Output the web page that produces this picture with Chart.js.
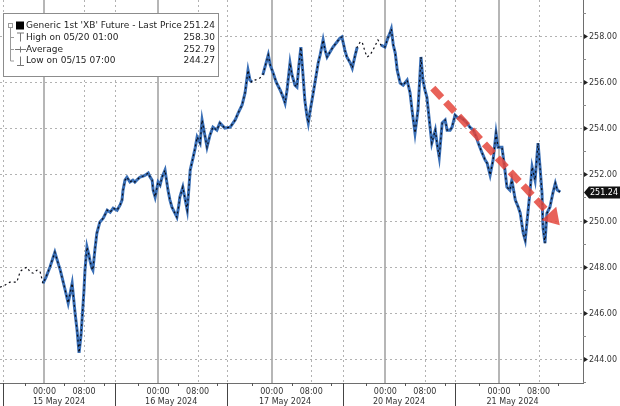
<!DOCTYPE html>
<html>
<head>
<meta charset="utf-8">
<script src="https://cdn.jsdelivr.net/npm/chart.js@4.4.1/dist/chart.umd.min.js"></script>
<style>
html, body { margin: 0; padding: 0; background: #fff; }
canvas { display: block; }
</style>
</head>
<body>
<canvas id="canvas1" width="620" height="406"></canvas>
<script>
'use strict';

// x is in trading hours: each session is 23h, laid end to end (overnight gaps removed)
const times = [
    0, 1.0, 2.0, 3.4, 4.1, 4.9, 5.5, 6.1, 6.7, 7.5, 8.1, 8.7, 9.3, 10.1, 10.7, 11.1, 11.7, 12.2, 12.8, 13.2,
    13.8, 14.2, 14.6, 15.2, 15.6, 16.0, 16.4, 16.6, 17.0, 17.2, 17.6, 18.0, 18.2, 18.6, 18.8, 19.2, 19.6, 20.2, 20.9, 21.7,
    22.3, 22.9, 23.7, 24.3, 24.7, 24.9, 25.3, 25.7, 26.3, 26.9, 27.3, 27.9, 28.3, 29.0, 29.4, 30.0, 30.4, 30.8, 31.0, 31.4,
    32.0, 32.4, 32.8, 33.4, 34.0, 34.4, 34.8, 35.4, 35.8, 36.2, 36.4, 37.0, 37.5, 37.9, 38.5, 39.1, 39.5, 39.9, 40.5, 40.9,
    41.9, 42.5, 43.1, 43.9, 44.5, 45.5, 46.6, 47.6, 48.2, 49.0, 49.6, 50.2, 50.6, 51.0, 51.6, 52.2, 52.6, 53.2, 53.9, 54.3,
    54.7, 55.3, 55.9, 56.7, 57.3, 57.7, 58.1, 58.7, 59.1, 59.7, 60.1, 60.5, 60.9, 61.3, 61.7, 62.1, 62.4, 62.8, 63.4, 64.0,
    64.4, 64.8, 65.4, 65.8, 66.2, 66.8, 67.4, 68.2, 68.8, 69.2, 69.8, 70.2, 70.9, 71.3, 71.9, 72.3, 72.9, 73.3, 73.9, 74.3,
    74.9, 75.5, 76.5, 77.1, 77.9, 78.5, 79.0, 79.2, 79.6, 80.0, 80.4, 81.0, 81.6, 82.4, 83.0, 83.4, 84.0, 84.6, 85.0, 85.2,
    85.6, 86.0, 86.4, 87.0, 87.4, 88.1, 88.5, 88.9, 89.5, 90.1, 90.5, 91.1, 91.5, 92.1, 92.7, 93.1, 93.9, 94.5, 95.1, 95.8,
    96.4, 96.8, 97.6, 98.2, 98.6, 99.2, 99.8, 100.4, 100.8, 101.6, 102.2, 102.6, 103.2, 103.6, 104.3, 104.9, 105.3, 105.9, 106.3, 106.7,
    107.3, 107.7, 108.3, 108.7, 108.9, 109.3, 109.7, 109.9, 110.3, 110.7, 111.3, 111.9, 112.4, 112.8, 113.4
];
const prices = [
    247.11, 247.20, 247.33, 247.33, 247.80, 247.93, 247.98, 247.76, 247.72, 247.85, 247.80, 247.28, 247.54, 247.98, 248.37, 248.63, 248.20, 247.85, 247.33, 246.98,
    246.42, 246.85, 247.28, 245.98, 245.25, 244.27, 245.03, 245.68, 246.98, 247.85, 248.85, 248.50, 248.28, 247.93, 247.85, 248.72, 249.45, 249.93, 250.10, 250.45,
    250.36, 250.54, 250.45, 250.67, 250.89, 251.32, 251.75, 251.88, 251.67, 251.75, 251.67, 251.80, 251.88, 251.93, 251.97, 252.06, 251.88, 251.75, 251.32, 251.02,
    251.67, 251.54, 251.88, 252.19, 251.32, 250.89, 250.58, 250.32, 250.15, 250.67, 251.02, 251.45, 250.89, 250.45, 252.19, 252.75, 253.14, 253.62, 253.36, 254.36,
    253.18, 253.70, 254.05, 253.92, 254.23, 254.01, 254.05, 254.36, 254.66, 255.01, 255.53, 256.52, 256.09, 256.00, 256.09, 256.13, 256.18, 256.31, 256.87, 257.18,
    256.74, 256.39, 256.00, 255.66, 255.35, 255.09, 255.66, 256.83, 256.31, 255.87, 255.79, 256.74, 257.52, 256.39, 255.22, 254.57, 254.23, 254.79, 255.53, 256.31,
    256.83, 257.18, 257.83, 257.39, 257.09, 257.31, 257.52, 257.74, 257.91, 257.96, 257.39, 257.09, 256.83, 256.61, 257.18, 257.52, 257.74, 257.74, 257.31, 257.09,
    257.18, 257.39, 257.83, 257.61, 257.52, 257.91, 258.17, 258.30, 257.61, 257.26, 256.52, 255.96, 255.87, 256.09, 255.53, 254.79, 253.79, 254.79, 256.31, 257.09,
    256.09, 255.66, 255.35, 254.14, 253.36, 253.92, 253.27, 252.75, 254.23, 254.36, 253.92, 253.92, 254.05, 254.57, 254.44, 254.49, 254.36, 254.23, 254.05, 253.92,
    253.62, 253.36, 252.92, 252.62, 252.49, 251.97, 252.62, 253.79, 253.18, 253.18, 252.19, 251.45, 251.32, 251.75, 250.89, 250.58, 250.32, 249.45, 249.15, 250.02,
    251.32, 252.32, 251.75, 252.84, 253.36, 252.32, 251.19, 249.71, 249.02, 250.32, 250.58, 251.19, 251.62, 251.32, 251.24
];

// thin trading stretches drawn as a broken line
const quietRanges = [[0, 8.7], [51.2, 53.3], [72.5, 77.5]];

const priceTicks = [244, 246, 248, 250, 252, 254, 256, 258];
const midnightTicks = [9, 32, 55, 78, 101];
const eightTicks = [17, 40, 63, 86, 109];
const sessionBounds = [0.6, 23.3, 46, 69.4, 92.1, 115.4];
const dateLabels = ['15 May 2024', '16 May 2024', '17 May 2024', '20 May 2024', '21 May 2024'];

const lastPrice = 251.24;
const highPrice = 258.30;
const avgPrice = 252.79;
const lowPrice = 244.27;
const legendRows = [
    `Generic 1st 'XB' Future - Last Price`,
    'High on 05/20 01:00',
    'Average',
    'Low on 05/15 07:00',
];

const arrowFrom = [87.6, 255.74];
const arrowTo = [113.3, 249.8];

const points = times.map((t, i) => ({ x: t, y: prices[i] }));
const isQuiet = (x) => quietRanges.some(r => x > r[0] && x <= r[1]);

function line(ctx, x0, y0, x1, y1) {
    ctx.beginPath();
    ctx.moveTo(x0, y0);
    ctx.lineTo(x1, y1);
    ctx.stroke();
}

const gridPlugin = {
    id: 'bbgGrid',
    beforeDatasetsDraw(chart) {
        const ctx = chart.ctx;
        const a = chart.chartArea;
        const sx = chart.scales.x;
        const sy = chart.scales.y;
        ctx.save();
        ctx.lineWidth = 1;
        ctx.strokeStyle = '#b2b2b2';
        ctx.setLineDash([2, 3]);
        for (const v of priceTicks) {
            const y = Math.round(sy.getPixelForValue(v)) + 0.5;
            line(ctx, a.left, y, a.right, y);
        }
        for (const h of eightTicks.concat(sessionBounds.slice(0, 5))) {
            const x = Math.round(sx.getPixelForValue(h)) + 0.5;
            line(ctx, x, a.top, x, a.bottom);
        }
        ctx.setLineDash([]);
        ctx.strokeStyle = '#a4a4a4';
        ctx.lineWidth = 1.6;
        for (const h of midnightTicks) {
            const x = Math.round(sx.getPixelForValue(h));
            line(ctx, x, a.top, x, a.bottom);
        }
        ctx.restore();
    },
    afterDatasetsDraw(chart) {
        // red dashed arrow
        const ctx = chart.ctx;
        const sx = chart.scales.x;
        const sy = chart.scales.y;
        const x0 = sx.getPixelForValue(arrowFrom[0]);
        const y0 = sy.getPixelForValue(arrowFrom[1]);
        const x1 = sx.getPixelForValue(arrowTo[0]);
        const y1 = sy.getPixelForValue(arrowTo[1]);
        const len = Math.hypot(x1 - x0, y1 - y0);
        const ux = (x1 - x0) / len;
        const uy = (y1 - y0) / len;
        const head = 16;
        ctx.save();
        ctx.strokeStyle = 'rgba(228,70,60,0.85)';
        ctx.fillStyle = 'rgba(228,70,60,0.85)';
        ctx.lineWidth = 7;
        ctx.setLineDash([13, 6]);
        line(ctx, x0, y0, x1 - ux * head, y1 - uy * head);
        ctx.setLineDash([]);
        ctx.beginPath();
        ctx.moveTo(x1, y1);
        ctx.lineTo(x1 - ux * head - uy * 10, y1 - uy * head + ux * 10);
        ctx.lineTo(x1 - ux * head + uy * 10, y1 - uy * head - ux * 10);
        ctx.closePath();
        ctx.fill();
        ctx.restore();
    },
    afterDraw(chart) {
        const ctx = chart.ctx;
        const a = chart.chartArea;
        const sx = chart.scales.x;
        const sy = chart.scales.y;
        ctx.save();

        // axis lines
        ctx.strokeStyle = '#6e6e6e';
        ctx.lineWidth = 1;
        line(ctx, a.right + 0.5, a.top, a.right + 0.5, a.bottom + 1);
        line(ctx, a.left, a.bottom + 0.5, a.right + 1, a.bottom + 0.5);

        // right axis: minor ticks, markers, labels
        ctx.font = '8px "DejaVu Sans"';
        ctx.textBaseline = 'middle';
        ctx.textAlign = 'left';
        for (let v = 243; v <= 259; v += 2) {
            const y = Math.round(sy.getPixelForValue(v)) + 0.5;
            ctx.strokeStyle = '#8a8a8a';
            line(ctx, a.right, y, a.right + 3, y);
        }
        for (const v of priceTicks) {
            const y = Math.round(sy.getPixelForValue(v)) + 0.5;
            ctx.fillStyle = '#222';
            ctx.beginPath();
            ctx.moveTo(a.right + 1, y - 2.5);
            ctx.lineTo(a.right + 5, y);
            ctx.lineTo(a.right + 1, y + 2.5);
            ctx.closePath();
            ctx.fill();
            ctx.fillStyle = '#333';
            ctx.fillText(v.toFixed(2), a.right + 6, y);
        }

        // last price tag
        const ly = Math.round(sy.getPixelForValue(lastPrice)) + 0.5;
        ctx.fillStyle = '#111';
        ctx.beginPath();
        ctx.moveTo(a.right + 1, ly);
        ctx.lineTo(a.right + 6, ly - 6);
        ctx.lineTo(chart.width, ly - 6);
        ctx.lineTo(chart.width, ly + 6);
        ctx.lineTo(a.right + 6, ly + 6);
        ctx.closePath();
        ctx.fill();
        ctx.fillStyle = '#fff';
        ctx.fillText(lastPrice.toFixed(2), a.right + 7, ly);

        // bottom axis: small 4h ticks
        ctx.strokeStyle = '#555';
        for (const m of midnightTicks) {
            for (const d of [-4, 4, 12]) {
                const x = Math.round(sx.getPixelForValue(m + d)) + 0.5;
                line(ctx, x, a.bottom, x, a.bottom + 3);
            }
        }
        // session separators below the axis
        ctx.strokeStyle = '#444';
        for (const h of sessionBounds.slice(0, 5)) {
            const x = Math.max(1, Math.round(sx.getPixelForValue(h))) + 0.5;
            line(ctx, x, a.bottom, x, chart.height);
        }
        // time and date labels
        ctx.fillStyle = '#333';
        ctx.textAlign = 'center';
        for (const h of midnightTicks) {
            ctx.fillText('00:00', sx.getPixelForValue(h), a.bottom + 9);
        }
        for (const h of eightTicks) {
            ctx.fillText('08:00', sx.getPixelForValue(h), a.bottom + 9);
        }
        dateLabels.forEach((d, i) => {
            const c = (sx.getPixelForValue(sessionBounds[i]) + sx.getPixelForValue(sessionBounds[i + 1])) / 2;
            ctx.fillText(d, c, a.bottom + 19);
        });

        // legend box
        ctx.fillStyle = '#fff';
        ctx.fillRect(3, 13, 215, 64);
        ctx.strokeStyle = '#8c8c8c';
        ctx.strokeRect(3.5, 13.5, 215, 63);
        const rows = [25.5, 37.5, 49.5, 61];
        ctx.strokeStyle = '#9a9a9a';
        line(ctx, 10.5, rows[0], 10.5, rows[3]);
        for (const r of rows.slice(1)) {
            line(ctx, 10.5, r, 14, r);
        }
        ctx.fillStyle = '#fff';
        ctx.fillRect(8, rows[0] - 2.5, 5, 5);
        ctx.strokeRect(8.5, rows[0] - 2, 4, 4);
        ctx.fillStyle = '#000';
        ctx.fillRect(16, rows[0] - 4, 8, 8);
        ctx.strokeStyle = '#777';
        line(ctx, 17, rows[1] - 4.5, 24, rows[1] - 4.5);
        line(ctx, 20.5, rows[1] - 4.5, 20.5, rows[1] + 4);
        line(ctx, 15, rows[2], 26, rows[2]);
        line(ctx, 20.5, rows[2] - 3, 20.5, rows[2] + 3);
        line(ctx, 20.5, rows[3] - 4.5, 20.5, rows[3] + 4);
        line(ctx, 17, rows[3] + 4.5, 24, rows[3] + 4.5);

        ctx.font = '9px "DejaVu Sans"';
        ctx.fillStyle = '#1e1e1e';
        const vals = [lastPrice, highPrice, avgPrice, lowPrice];
        legendRows.forEach((t, i) => {
            ctx.textAlign = 'left';
            ctx.fillText(t, 26, rows[i]);
            ctx.textAlign = 'right';
            ctx.fillText(vals[i].toFixed(2), 215, rows[i]);
        });
        ctx.restore();
    }
};

let chart1 = new Chart(document.querySelector('#canvas1'), {
    type: 'line',
    data: {
        datasets: [
            {
                label: 'Last Price',
                data: points,
                order: 1,
                borderColor: '#0c0c14',
                borderWidth: 1.2,
                borderDash: [2, 3],
                pointRadius: 0,
                segment: {
                    borderDash: c => isQuiet(c.p1.parsed.x) ? [2, 3] : [2, 3],
                },
            },
            {
                label: 'bars',
                data: points,
                order: 2,
                borderColor: '#3a6fb6',
                borderWidth: 3,
                pointRadius: 0,
                segment: {
                    borderColor: c => isQuiet(c.p1.parsed.x) ? 'rgba(0,0,0,0)' : '#3a6fb6',
                },
            },
        ],
    },
    options: {
        responsive: false,
        animation: false,
        devicePixelRatio: 1,
        layout: { padding: { left: 0, top: 0, right: 37, bottom: 23 } },
        plugins: {
            legend: { display: false },
            tooltip: { enabled: false },
        },
        scales: {
            x: { type: 'linear', min: 0, max: 118, display: false },
            y: { min: 242.96, max: 259.56, display: false },
        },
        elements: { line: { tension: 0 } },
    },
    plugins: [gridPlugin],
});
</script>
</body>
</html>
